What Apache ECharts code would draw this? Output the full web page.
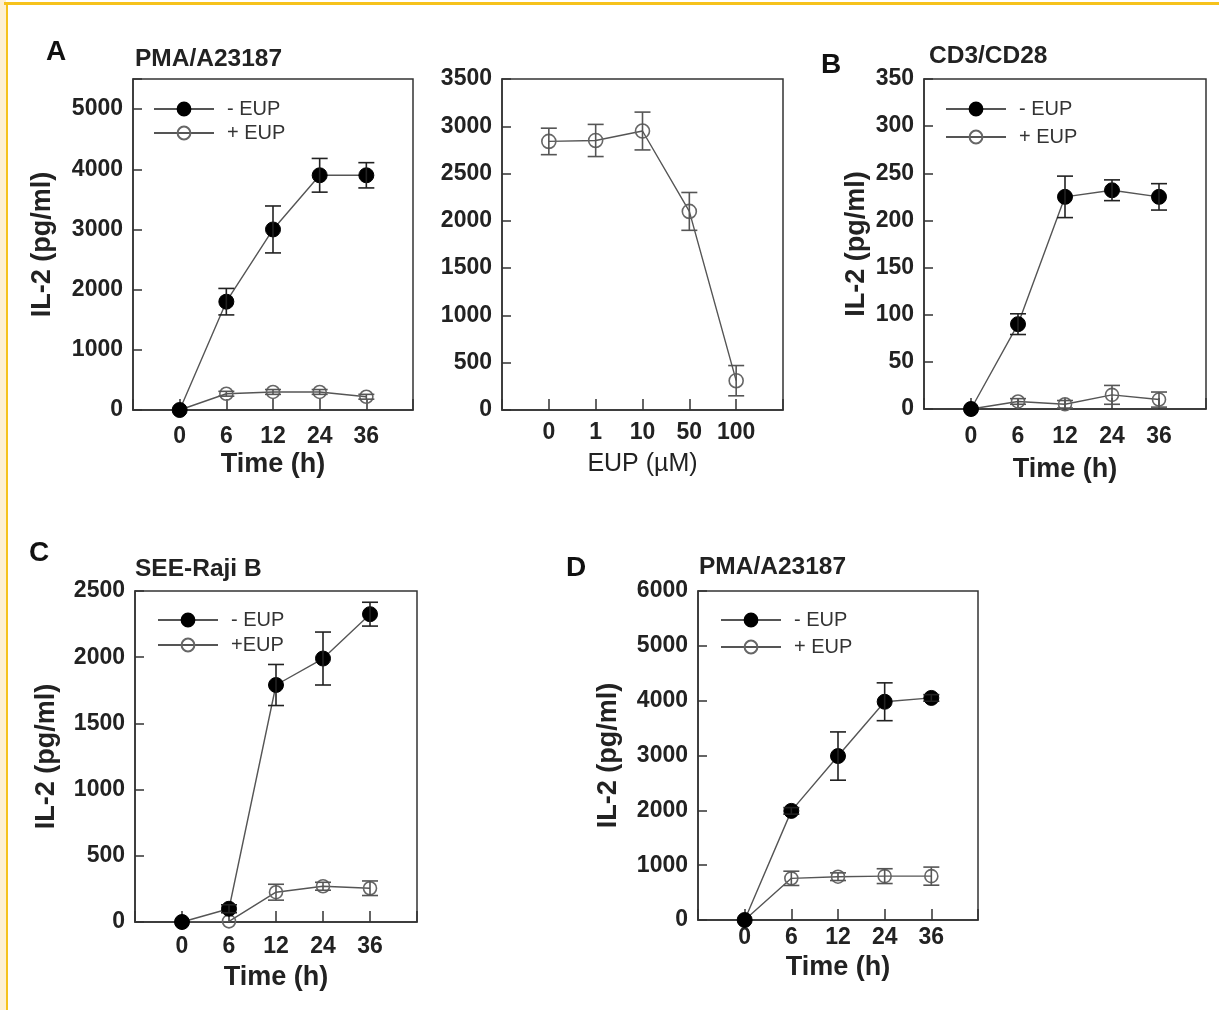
<!DOCTYPE html>
<html>
<head>
<meta charset="utf-8">
<script src="https://cdn.jsdelivr.net/npm/echarts@6/dist/echarts.min.js"></script>
<style>
  html, body { margin: 0; padding: 0; background: #fff; }
  #wrap { position: relative; width: 1219px; height: 1010px; overflow: hidden; }
  #cream { position: absolute; left: 0; top: 0; width: 6px; height: 1010px; background: #fdf0d2; }
  #lineL { position: absolute; left: 6px; top: 2px; width: 2px; height: 1008px; background: #f6c21c; }
  #lineT { position: absolute; left: 4px; top: 2px; width: 1215px; height: 3px; background: #f6c21c; }
  #chart { position: absolute; left: 0; top: 0; width: 1219px; height: 1010px; }
</style>
</head>
<body>
<div id="wrap">
  <div id="cream"></div><div id="lineL"></div><div id="lineT"></div>
  <div id="chart"></div>
</div>
<script>
// ---- data ----
const timeLabels = ['0', '6', '12', '24', '36'];
const doseLabels = ['0', '1', '10', '50', '100'];

// Panel A (left) PMA/A23187 time course
const aMinus    = [0, 1800, 3000, 3900, 3900];
const aMinusErr = [0, 220, 390, 280, 210];
const aPlus     = [0, 270, 300, 300, 220];
const aPlusErr  = [0, 40, 40, 40, 40];

// Panel A (right) EUP dose response
const aDose     = [2840, 2850, 2950, 2100, 310];
const aDoseErr  = [140, 170, 200, 200, 160];

// Panel B CD3/CD28
const bMinus    = [0, 90, 225, 232, 225];
const bMinusErr = [0, 11, 22, 11, 14];
const bPlus     = [0, 8, 5, 15, 10];
const bPlusErr  = [0, 3, 4, 10, 8];

// Panel C SEE-Raji B
const cMinus    = [0, 100, 1790, 1990, 2325];
const cMinusErr = [0, 30, 155, 200, 90];
const cPlus     = [0, 5, 225, 270, 255];
const cPlusErr  = [0, 0, 60, 30, 55];

// Panel D PMA/A23187
const dMinus    = [0, 1990, 2990, 3980, 4050];
const dMinusErr = [0, 60, 440, 345, 60];
const dPlus     = [0, 760, 790, 800, 800];
const dPlusErr  = [0, 130, 70, 135, 165];

// ---- styling ----
const FONT = "'Liberation Sans', Arial, Helvetica, sans-serif";
const TXT = '#222';
const LINE = '#555';
const TICK_FS = 23;
const NAME_FS = 27;

const chart = echarts.init(document.getElementById('chart'), null, { renderer: 'canvas' });

const grids = [], xAxes = [], yAxes = [], series = [], legends = [];

function errData(vals, errs) {
  const out = [];
  vals.forEach((v, i) => { if (errs[i] > 0) out.push([i, v - errs[i], v + errs[i]]); });
  return out;
}
function errSeries(idx, vals, errs, color) {
  return {
    type: 'custom', xAxisIndex: idx, yAxisIndex: idx, silent: true, z: 5,
    encode: { x: 0, y: [1, 2] },
    data: errData(vals, errs),
    renderItem: function (params, api) {
      const x = api.value(0);
      const top = api.coord([x, api.value(2)]);
      const bot = api.coord([x, api.value(1)]);
      const w = 8;
      const st = { stroke: color, lineWidth: 1.6 };
      return {
        type: 'group',
        children: [
          { type: 'line', shape: { x1: top[0], y1: top[1], x2: bot[0], y2: bot[1] }, style: st },
          { type: 'line', shape: { x1: top[0] - w, y1: top[1], x2: top[0] + w, y2: top[1] }, style: st },
          { type: 'line', shape: { x1: bot[0] - w, y1: bot[1], x2: bot[0] + w, y2: bot[1] }, style: st }
        ]
      };
    }
  };
}
function lineSeries(idx, name, vals, filled, size) {
  return {
    type: 'line', name: name, xAxisIndex: idx, yAxisIndex: idx, z: filled ? 4 : 3,
    data: vals.map((v, i) => [i, v]),
    symbol: 'circle', symbolSize: size, showSymbol: true,
    lineStyle: { color: LINE, width: 1.4 },
    itemStyle: filled ? { color: '#000', borderColor: '#000', borderWidth: 1 }
                      : { color: 'rgba(255,255,255,0)', borderColor: '#666', borderWidth: 1.6 },
    emphasis: { disabled: true },
    animation: false
  };
}

function addPanel(p) {
  const idx = grids.length;
  grids.push({ left: p.left, top: p.top, width: p.width, height: p.height,
    show: true, borderColor: '#333', borderWidth: 1.5, backgroundColor: 'rgba(0,0,0,0)' });
  xAxes.push({
    gridIndex: idx, type: 'value', min: -1, max: 5, interval: 1,
    axisLine: { show: true, onZero: false, lineStyle: { color: '#333', width: 1.5 } },
    axisTick: { show: true, inside: true, length: 11, lineStyle: { color: '#333', width: 1.5 } },
    splitLine: { show: false },
    axisLabel: { margin: p.xMargin, color: TXT, fontFamily: FONT, fontWeight: 'bold', fontSize: TICK_FS,
      formatter: v => (v >= 0 && v < p.labels.length) ? p.labels[v] : '' },
    name: p.xName, nameLocation: 'middle', nameGap: p.xNameGap,
    nameTextStyle: { color: TXT, fontFamily: FONT, fontWeight: p.xNameBold ? 'bold' : 'normal', fontSize: p.xNameSize || NAME_FS }
  });
  yAxes.push({
    gridIndex: idx, type: 'value', min: 0, max: p.yMax, interval: p.yInterval,
    axisLine: { show: true, onZero: false, lineStyle: { color: '#333', width: 1.5 } },
    axisTick: { show: true, inside: true, length: 9, lineStyle: { color: '#333', width: 1.5 } },
    splitLine: { show: false },
    axisLabel: { margin: 10, color: TXT, fontFamily: FONT, fontWeight: 'bold', fontSize: TICK_FS,
      formatter: v => (v <= p.yLabelMax ? String(v) : '') },
    name: p.yName, nameLocation: 'middle', nameGap: p.yNameGap, nameRotate: 90,
    nameTextStyle: { color: TXT, fontFamily: FONT, fontWeight: 'bold', fontSize: NAME_FS }
  });
  p.series.forEach(s => {
    series.push(lineSeries(idx, s.name, s.vals, s.filled, s.size));
    series.push(errSeries(idx, s.vals, s.errs, s.filled ? '#222' : '#555'));
  });
  if (p.legend) {
    legends.push({
      left: p.legend.left, top: p.legend.top, orient: 'vertical', padding: 0,
      itemGap: p.legend.gap, itemWidth: 60, itemHeight: 16, selectedMode: false,
      data: p.series.map(s => s.name),
      textStyle: { color: '#333', fontFamily: FONT, fontSize: 20, padding: [0, 0, 0, 8] }
    });
  }
}

// Panel A left
addPanel({ left: 133, top: 79, width: 280, height: 331, labels: timeLabels,
  yMax: 5500, yInterval: 1000, yLabelMax: 5000, xMargin: 15,
  xName: 'Time (h)', xNameGap: 41, xNameBold: true, yName: 'IL-2 (pg/ml)', yNameGap: 77,
  legend: { left: 153, top: 99, gap: 4 },
  series: [
    { name: '- EUP', vals: aMinus, errs: aMinusErr, filled: true, size: 15 },
    { name: '+ EUP', vals: aPlus, errs: aPlusErr, filled: false, size: 13 }
  ] });

// Panel A right
addPanel({ left: 502, top: 79, width: 281, height: 331, labels: doseLabels,
  yMax: 3500, yInterval: 500, yLabelMax: 3500, xMargin: 11,
  xName: 'EUP (\u00b5M)', xNameGap: 42, xNameBold: false, xNameSize: 25, yName: '', yNameGap: 0,
  series: [
    { name: 'EUP dose', vals: aDose, errs: aDoseErr, filled: false, size: 14 }
  ] });

// Panel B
addPanel({ left: 924, top: 79, width: 282, height: 330, labels: timeLabels,
  yMax: 350, yInterval: 50, yLabelMax: 350, xMargin: 16,
  xName: 'Time (h)', xNameGap: 47, xNameBold: true, yName: 'IL-2 (pg/ml)', yNameGap: 54,
  legend: { left: 945, top: 99, gap: 8 },
  series: [
    { name: '- EUP', vals: bMinus, errs: bMinusErr, filled: true, size: 15 },
    { name: '+ EUP', vals: bPlus, errs: bPlusErr, filled: false, size: 13 }
  ] });

// Panel C
addPanel({ left: 135, top: 591, width: 282, height: 331, labels: timeLabels,
  yMax: 2500, yInterval: 500, yLabelMax: 2500, xMargin: 13,
  xName: 'Time (h)', xNameGap: 42, xNameBold: true, yName: 'IL-2 (pg/ml)', yNameGap: 75,
  legend: { left: 157, top: 610, gap: 5 },
  series: [
    { name: '- EUP', vals: cMinus, errs: cMinusErr, filled: true, size: 15 },
    { name: '+EUP', vals: cPlus, errs: cPlusErr, filled: false, size: 13 }
  ] });

// Panel D
addPanel({ left: 698, top: 591, width: 280, height: 329, labels: timeLabels,
  yMax: 6000, yInterval: 1000, yLabelMax: 6000, xMargin: 6,
  xName: 'Time (h)', xNameGap: 34, xNameBold: true, yName: 'IL-2 (pg/ml)', yNameGap: 76,
  legend: { left: 720, top: 610, gap: 7 },
  series: [
    { name: '- EUP', vals: dMinus, errs: dMinusErr, filled: true, size: 15 },
    { name: '+ EUP', vals: dPlus, errs: dPlusErr, filled: false, size: 13 }
  ] });

const letterStyle = { color: '#111', fontFamily: FONT, fontWeight: 'bold', fontSize: 28 };
const subStyle = { color: TXT, fontFamily: FONT, fontWeight: 'bold', fontSize: 24.5 };
const titles = [
  { text: 'A', left: 46, top: 38, padding: 0, textStyle: letterStyle },
  { text: 'B', left: 821, top: 51, padding: 0, textStyle: letterStyle },
  { text: 'C', left: 29, top: 539, padding: 0, textStyle: letterStyle },
  { text: 'D', left: 566, top: 554, padding: 0, textStyle: letterStyle },
  { text: 'PMA/A23187', left: 135, top: 47, padding: 0, textStyle: subStyle },
  { text: 'CD3/CD28', left: 929, top: 44, padding: 0, textStyle: subStyle },
  { text: 'SEE-Raji B', left: 135, top: 557, padding: 0, textStyle: subStyle },
  { text: 'PMA/A23187', left: 699, top: 555, padding: 0, textStyle: subStyle }
];

chart.setOption({
  animation: false,
  backgroundColor: 'rgba(0,0,0,0)',
  title: titles,
  grid: grids,
  xAxis: xAxes,
  yAxis: yAxes,
  legend: legends,
  series: series
});
</script>
</body>
</html>
